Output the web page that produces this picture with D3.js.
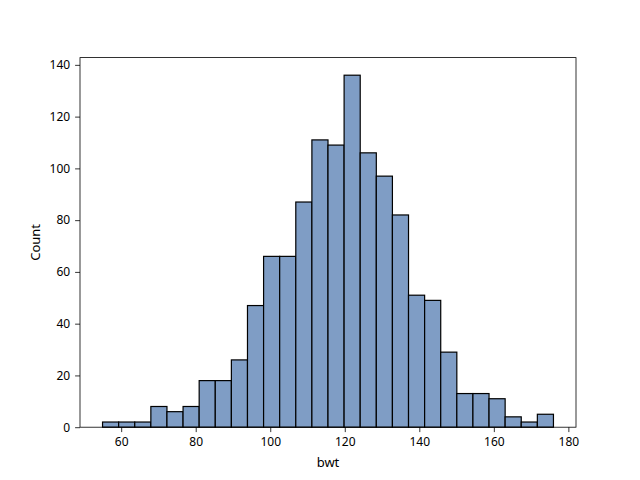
<!DOCTYPE html>
<html>
<head>
<meta charset="utf-8">
<script src="https://cdn.jsdelivr.net/npm/d3@7"></script>
<style>
body { margin: 0; background: #fff; }
svg { display: block; font-family: "Noto Sans", sans-serif; }
</style>
</head>
<body>
<svg id="chart" width="640" height="480"></svg>
<script>
const binMin = 55;
const binMax = 176;
const counts = [2, 2, 2, 8, 6, 8, 18, 18, 26, 47, 66, 66, 87, 111, 109, 136, 106, 97, 82, 51, 49, 29, 13, 13, 11, 4, 2, 5];
const xTicks = [60, 80, 100, 120, 140, 160, 180];
const yTicks = [0, 20, 40, 60, 80, 100, 120, 140];
const xLabel = "bwt";
const yLabel = "Count";

const binW = (binMax - binMin) / counts.length;
const bins = counts.map((c, i) => ({ x0: binMin + i * binW, x1: binMin + (i + 1) * binW, count: c }));

const svg = d3.select("#chart");
const L = 80, R = 576, T = 57.6, B = 427.2;
const pad = (binMax - binMin) * 0.05;
const x = d3.scaleLinear().domain([binMin - pad, binMax + pad]).range([L, R]);
const yMax = d3.max(counts) * 1.05;
const y = d3.scaleLinear().domain([0, yMax]).range([B, T]);

svg.append("g").selectAll("rect").data(bins).join("rect")
  .attr("x", d => x(d.x0))
  .attr("y", d => y(d.count))
  .attr("width", d => x(d.x1) - x(d.x0))
  .attr("height", d => y(0) - y(d.count))
  .attr("fill", "rgb(127,157,197)")
  .attr("stroke", "#000")
  .attr("stroke-width", 1.2);

svg.append("rect").attr("x", L).attr("y", T).attr("width", R - L).attr("height", B - T)
  .attr("fill", "none").attr("stroke", "#000").attr("stroke-width", 0.8);

const xAxis = svg.append("g").attr("transform", `translate(0,${B})`)
  .call(d3.axisBottom(x).tickValues(xTicks).tickSize(4.9).tickPadding(4.9).tickFormat(d3.format("d")));
const yAxis = svg.append("g").attr("transform", `translate(${L},0)`)
  .call(d3.axisLeft(y).tickValues(yTicks).tickSize(4.9).tickPadding(4.9).tickFormat(d3.format("d")));
[xAxis, yAxis].forEach(g => {
  g.select(".domain").remove();
  g.selectAll(".tick line").attr("stroke", "#000").attr("stroke-width", 0.8);
  g.selectAll(".tick text").attr("fill", "#000").style("font-size", "12px").style("font-family", "'Noto Sans', sans-serif");
});

svg.append("text").attr("x", (L + R) / 2).attr("y", 467).attr("text-anchor", "middle")
  .style("font-size", "13px").text(xLabel);
svg.append("text").attr("transform", `translate(40,${(T + B) / 2}) rotate(-90)`).attr("text-anchor", "middle")
  .style("font-size", "13px").text(yLabel);
</script>
</body>
</html>
